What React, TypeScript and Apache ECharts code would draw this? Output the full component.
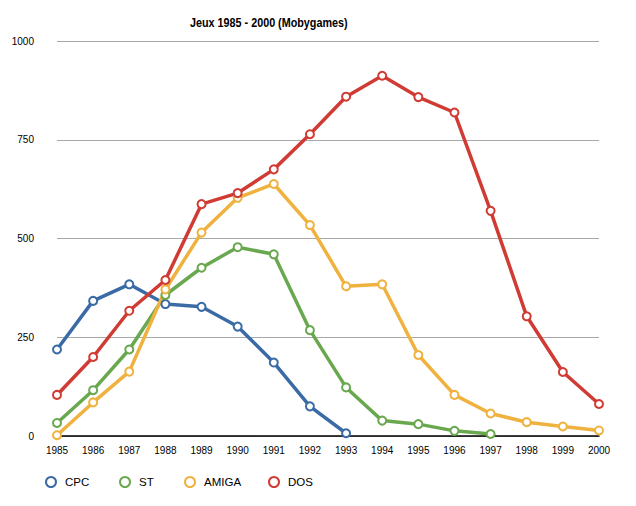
import React, { useEffect, useRef } from "react";
import * as echarts from "echarts";

const years = ["1985","1986","1987","1988","1989","1990","1991","1992","1993","1994","1995","1996","1997","1998","1999","2000"];
const cpc = [219, 342, 384, 334, 327, 277, 186, 75, 7, null, null, null, null, null, null, null];
const st = [33, 116, 219, 357, 426, 478, 460, 268, 123, 39, 30, 13, 5, null, null, null];
const amiga = [2, 85, 163, 371, 515, 603, 638, 534, 379, 384, 205, 104, 57, 35, 24, 14];
const dos = [104, 200, 317, 395, 587, 615, 675, 764, 859, 912, 858, 819, 570, 303, 162, 81];
const seriesNames = ["CPC", "ST", "AMIGA", "DOS"];
const seriesColors = ["#3a6ba5", "#6aa84f", "#f0b23e", "#d03b34"];
const yTicks = { min: 0, max: 1000, interval: 250 };
const titleText = "Jeux 1985 - 2000 (Mobygames)";

const FONT = "'Liberation Sans', Arial, Helvetica, sans-serif";
const legendLefts = [40, 114, 179, 263];

export default function App() {
  const ref = useRef<HTMLDivElement>(null);
  useEffect(() => {
    if (!ref.current) return;
    const chart = echarts.init(ref.current, null, { renderer: "svg" });
    const data = [cpc, st, amiga, dos];
    chart.setOption({
      animation: false,
      backgroundColor: "#fff",
      graphic: [
        {
          type: "text",
          x: 190,
          y: 16,
          scaleX: 0.83,
          style: { text: titleText, font: "bold 13px 'Liberation Sans', Arial, sans-serif", fill: "#000" },
        },
      ],
      legend: seriesNames.map((name, i) => ({
        left: legendLefts[i],
        top: 471,
        itemWidth: 18,
        itemHeight: 10,
        icon: "emptyCircle",
        itemStyle: { borderWidth: 2.5 },
        textStyle: { fontFamily: FONT, fontSize: 11.5, color: "#000" },
        data: [name],
      })),
      grid: { left: 57, right: 37, top: 41, bottom: 70, containLabel: false },
      xAxis: {
        type: "category",
        data: years,
        boundaryGap: false,
        axisLine: { show: true, lineStyle: { color: "#000", width: 1.5 } },
        axisTick: { show: false },
        axisLabel: { fontFamily: FONT, fontSize: 10, color: "#000", margin: 9, interval: 0 },
        splitLine: { show: false },
      },
      yAxis: {
        type: "value",
        min: yTicks.min,
        max: yTicks.max,
        interval: yTicks.interval,
        axisLine: { show: false },
        axisTick: { show: false },
        axisLabel: { fontFamily: FONT, fontSize: 10, color: "#000", margin: 23, formatter: (v: number) => String(v) },
        splitLine: { lineStyle: { color: "#a8a8a8", width: 1 } },
      },
      series: seriesNames.map((name, i) => ({
        name,
        type: "line",
        data: data[i],
        color: seriesColors[i],
        symbol: "emptyCircle",
        symbolSize: 8,
        lineStyle: { width: 3.5, color: seriesColors[i] },
        itemStyle: { color: seriesColors[i], borderColor: seriesColors[i], borderWidth: 3.5 },
        connectNulls: false,
      })),
    });
    return () => chart.dispose();
  }, []);
  return <div ref={ref} style={{ position: "absolute", left: 0, top: 0, width: 636, height: 506 }} />;
}
